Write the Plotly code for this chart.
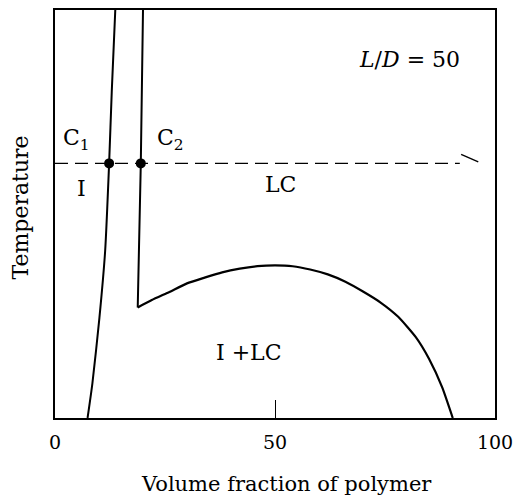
import plotly.graph_objects as go

# Boundary C1 (isotropic limit)
c1_x = [13.7, 12.9, 12.3, 11.4, 10.1, 8.5, 7.4]
c1_y = [100, 80, 62.4, 41, 24.6, 8.5, 0]

# Boundary C2 (vertical part)
c2v_x = [20.0, 19.5, 18.8]
c2v_y = [100, 62.4, 27.1]

# Biphasic dome
dome_x = [18.8, 22, 26, 30, 34, 38, 42, 46, 50, 54, 58, 62, 66, 70, 74, 78, 82, 85, 88, 90.4]
dome_y = [27.1, 28.9, 30.9, 33.0, 34.4, 35.7, 36.6, 37.2, 37.4, 37.2, 36.4, 35.2, 33.4, 31.0, 28.3, 24.8, 19.8, 14.5, 7.5, 0]

# Dashed isotherm and its intersection points
iso_x = [0, 92]
iso_y = [62.4, 62.4]
arrow_x = [92.3, 96.2]
arrow_y = [64.6, 62.8]
dots_x = [12.3, 19.5]
dots_y = [62.4, 62.4]

# Region labels
lab_text = ["C<sub>1</sub>", "C<sub>2</sub>", "I", "LC", "<i>L</i>/<i>D</i> = 50", "I +LC"]
lab_x = [4.9, 26.2, 6.0, 51.3, 80.5, 44.0]
lab_y = [68.3, 68.3, 56.3, 57.3, 87.8, 16.1]

tick_vals = [0, 50, 100]
tick_text = ["0", "50", "100"]

FONT = "DejaVu Serif"
fig = go.Figure()
fig.add_trace(go.Scatter(x=c1_x, y=c1_y, mode="lines", line=dict(color="black", width=2, shape="spline", smoothing=0.6)))
fig.add_trace(go.Scatter(x=c2v_x, y=c2v_y, mode="lines", line=dict(color="black", width=2)))
fig.add_trace(go.Scatter(x=dome_x, y=dome_y, mode="lines", line=dict(color="black", width=2.2, shape="spline", smoothing=0.5)))
fig.add_trace(go.Scatter(x=iso_x, y=iso_y, mode="lines", line=dict(color="black", width=1.4, dash="13px,7px")))
fig.add_trace(go.Scatter(x=arrow_x, y=arrow_y, mode="lines", line=dict(color="black", width=1.4)))
fig.add_trace(go.Scatter(x=dots_x, y=dots_y, mode="markers", marker=dict(color="black", size=10)))

for t, x, y in zip(lab_text, lab_x, lab_y):
    fig.add_annotation(x=x, y=y, text=t, showarrow=False, xanchor="center", yanchor="middle",
                       font=dict(family=FONT, size=22, color="black"))

fig.add_annotation(xref="paper", yref="paper", x=0.527, y=-0.161, xanchor="center", yanchor="middle",
                   text="Volume fraction of polymer", showarrow=False,
                   font=dict(family=FONT, size=21, color="black"))
fig.add_annotation(xref="paper", yref="paper", x=-0.0785, y=0.517, xanchor="center", yanchor="middle",
                   textangle=-90, text="Temperature", showarrow=False,
                   font=dict(family=FONT, size=22, color="black"))

fig.update_layout(
    width=521, height=499,
    margin=dict(l=55, r=21, t=8, b=81),
    plot_bgcolor="white", paper_bgcolor="white",
    showlegend=False,
    xaxis=dict(range=[0, 100], tickvals=tick_vals, ticktext=tick_text, ticks="inside", ticklen=18,
               tickwidth=1.2, tickcolor="black", showgrid=False, zeroline=False, showline=True,
               linecolor="black", linewidth=1.5, mirror=True,
               tickfont=dict(family=FONT, size=19, color="black"), ticklabelstandoff=6),
    yaxis=dict(range=[0, 100], showticklabels=False, ticks="", showgrid=False, zeroline=False,
               showline=True, linecolor="black", linewidth=1.5, mirror=True),
)
fig.write_html("out.html")
